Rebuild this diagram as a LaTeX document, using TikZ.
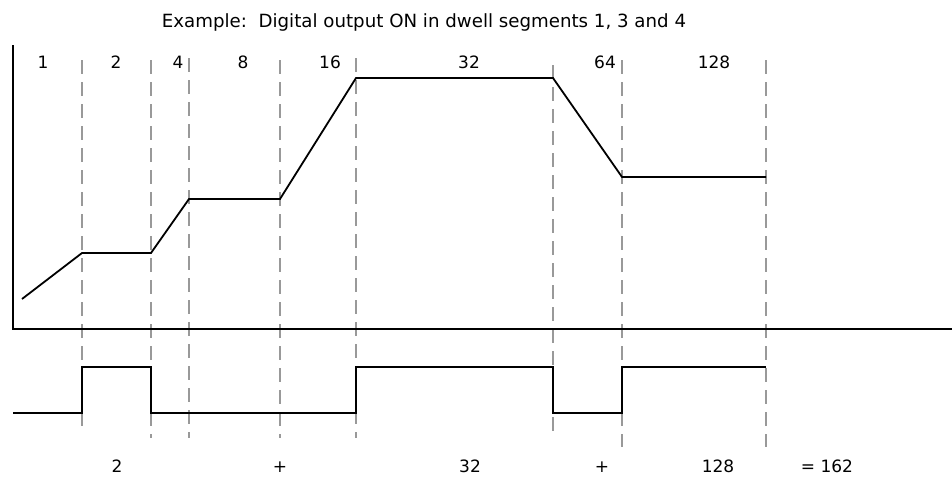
\documentclass[tikz,border=0pt]{standalone}
\usepackage{fontspec}
\setmainfont{DejaVu Sans}
\begin{document}
\begin{tikzpicture}[x=1pt,y=-1pt,
  axis/.style={line width=2pt,black},
  trace/.style={line width=1.8pt,black,line join=miter},
  guide/.style={line width=1.6pt,color=black!40,dash pattern=on 14pt off 8pt},
  lbl/.style={font=\fontsize{17}{20}\selectfont,inner sep=0pt,anchor=base}]
\useasboundingbox (0,0) rectangle (952,477);
% title
\node[lbl,font=\fontsize{18.2}{21}\selectfont] (title) at (424,27) {Example:\ \ Digital output ON in dwell segments 1, 3 and 4};
% dashed guides
\foreach \x/\t/\b [count=\i] in {82/60/427, 151/60/438, 189/58/438, 280/60/438, 356/58/438, 553/65/432, 622/60/447, 766/60/447}{
  \coordinate (gt\i) at (\x,\t);
  \coordinate (gb\i) at (\x,\b);
  \draw[guide] (gt\i) -- (gb\i);
}
% axes
\coordinate (ytop) at (13,45);
\coordinate (orig) at (13,329);
\coordinate (xend) at (952,329);
\draw[axis] (ytop) -- (orig) -- (xend);
% profile
\coordinate (p0) at (22,299);
\coordinate (p1) at (82,253);
\coordinate (p2) at (151,253);
\coordinate (p3) at (189,199);
\coordinate (p4) at (280,199);
\coordinate (p5) at (356,78);
\coordinate (p6) at (553,78);
\coordinate (p7) at (622,177);
\coordinate (p8) at (766,177);
\draw[trace] (p0) -- (p1) -- (p2) -- (p3) -- (p4) -- (p5) -- (p6) -- (p7) -- (p8);
% digital output
\coordinate (d0) at (13,413);
\draw[trace] (d0) -- (82,413) -- (82,367) -- (151,367) -- (151,413) -- (356,413) -- (356,367) -- (553,367) -- (553,413) -- (622,413) -- (622,367) -- (766,367);
% top labels
\node[lbl] (s1) at (43,68) {1};
\node[lbl] (s2) at (116,68) {2};
\node[lbl] (s4) at (178,68) {4};
\node[lbl] (s8) at (243,68) {8};
\node[lbl] (s16) at (330,68) {16};
\node[lbl] (s32) at (469,68) {32};
\node[lbl] (s64) at (605,68) {64};
\node[lbl] (s128) at (714,68) {128};
% bottom labels
\node[lbl] (b2) at (117,472) {2};
\node[lbl] (bp1) at (280,472) {+};
\node[lbl] (b32) at (470,472) {32};
\node[lbl] (bp2) at (602,472) {+};
\node[lbl] (b128) at (718,472) {128};
\node[lbl] (bsum) at (827,472) {= 162};
\end{tikzpicture}
\end{document}
